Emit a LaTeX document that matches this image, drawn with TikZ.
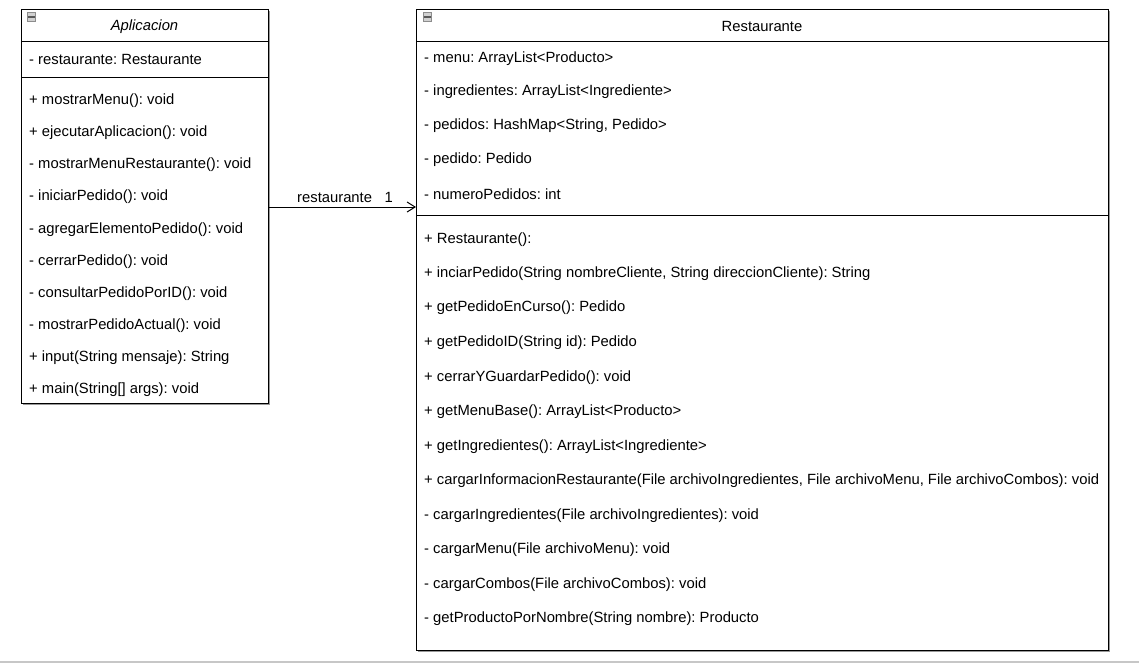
\documentclass[tikz,border=0pt]{standalone}
\usepackage{fontspec}
\setmainfont{Liberation Sans}
\usetikzlibrary{arrows.meta,calc}
\begin{document}
\frenchspacing
\begin{tikzpicture}[x=1pt,y=-1pt,
  box/.style={draw=black,line width=1pt,fill=white,anchor=north west,inner sep=0pt,outer sep=0pt},
  shadowbox/.style={fill=black!40,anchor=north west,inner sep=0pt,outer sep=0pt,draw=none},
  txt/.style={anchor=west,inner sep=0pt,yshift=-1.6pt,font=\fontsize{14.8}{17}\selectfont,text=black},
  sep/.style={draw=black,line width=1pt},
  icon/.style={draw=black!45,fill=black!18,minimum size=8.5pt,inner sep=0pt,line width=0.7pt}]
\useasboundingbox (0,0) rectangle (1139,664);
\fill[white] (0,0) rectangle (1139,664);
\draw[black!22,line width=2pt] (0,662) -- (1139,662);
% shadows
\node[shadowbox,minimum width=247pt,minimum height=394pt] (aplsh) at (23,11) {};
\node[shadowbox,minimum width=692pt,minimum height=641pt] (ressh) at (418,11) {};
% boxes
\node[box,minimum width=247pt,minimum height=394pt] (apl) at (21,9) {};
\node[box,minimum width=692pt,minimum height=641pt] (res) at (416,9) {};
% separators
\draw[sep] (apl.west |- 0,41) -- (apl.east |- 0,41);
\draw[sep] (apl.west |- 0,77) -- (apl.east |- 0,77);
\draw[sep] (res.west |- 0,41) -- (res.east |- 0,41);
\draw[sep] (res.west |- 0,215) -- (res.east |- 0,215);
% icons
\node[icon] (i1) at (31.5,17) {};
\draw[black!65,line width=1.8pt] ($(i1.west)+(1.5,0)$) -- ($(i1.east)+(-1.5,0)$);
\node[icon] (i2) at (427.5,17) {};
\draw[black!65,line width=1.8pt] ($(i2.west)+(1.5,0)$) -- ($(i2.east)+(-1.5,0)$);
% titles
\node[txt,anchor=center,font=\fontsize{14.8}{17}\selectfont\itshape] (tapl) at (144.5,25) {Aplicacion};
\node[txt,anchor=center] (tres) at (762,25) {Restaurante};
% Aplicacion members
\node[txt] (a0) at (29,58) {- restaurante: Restaurante};
\node[txt] (a1) at (29,99) {+ mostrarMenu(): void};
\node[txt] (a2) at (29,131) {+ ejecutarAplicacion(): void};
\node[txt] (a3) at (29,163.5) {- mostrarMenuRestaurante(): void};
\node[txt] (a4) at (29,195.5) {- iniciarPedido(): void};
\node[txt] (a5) at (29,228) {- agregarElementoPedido(): void};
\node[txt] (a6) at (29,260) {- cerrarPedido(): void};
\node[txt] (a7) at (29,292) {- consultarPedidoPorID(): void};
\node[txt] (a8) at (29,324) {- mostrarPedidoActual(): void};
\node[txt] (a9) at (29,356) {+ input(String mensaje): String};
\node[txt] (a10) at (29,388) {+ main(String[] args): void};
% Restaurante attributes
\node[txt] (r0) at (424,57.5) {- menu: ArrayList<Producto>};
\node[txt] (r1) at (424,90) {- ingredientes: ArrayList<Ingrediente>};
\node[txt] (r2) at (424,124) {- pedidos: HashMap<String, Pedido>};
\node[txt] (r3) at (424,158.5) {- pedido: Pedido};
\node[txt] (r4) at (424,192.5) {- numeroPedidos: int};
% Restaurante methods
\node[txt] (m0) at (424,238) {+ Restaurante():};
\node[txt] (m1) at (424,272) {+ inciarPedido(String nombreCliente, String direccionCliente): String};
\node[txt] (m2) at (424,306.5) {+ getPedidoEnCurso(): Pedido};
\node[txt] (m3) at (424,341) {+ getPedidoID(String id): Pedido};
\node[txt] (m4) at (424,376) {+ cerrarYGuardarPedido(): void};
\node[txt] (m5) at (424,410.5) {+ getMenuBase(): ArrayList<Producto>};
\node[txt] (m6) at (424,445) {+ getIngredientes(): ArrayList<Ingrediente>};
\node[txt] (m7) at (424,479.5) {+ cargarInformacionRestaurante(File archivoIngredientes, File archivoMenu, File archivoCombos): void};
\node[txt] (m8) at (424,514) {- cargarIngredientes(File archivoIngredientes): void};
\node[txt] (m9) at (424,548.5) {- cargarMenu(File archivoMenu): void};
\node[txt] (m10) at (424,583) {- cargarCombos(File archivoCombos): void};
\node[txt] (m11) at (424,617.5) {- getProductoPorNombre(String nombre): Producto};
% association
\coordinate (ay) at (0,207);
\draw[line width=1pt,-{Straight Barb[length=8pt,width=10pt,line width=1pt]}] (apl.east |- ay) -- (res.west |- ay);
\node[txt] (lrole) at (297,196) {restaurante};
\node[txt] (lmult) at (384.5,196) {1};
\end{tikzpicture}
\end{document}
